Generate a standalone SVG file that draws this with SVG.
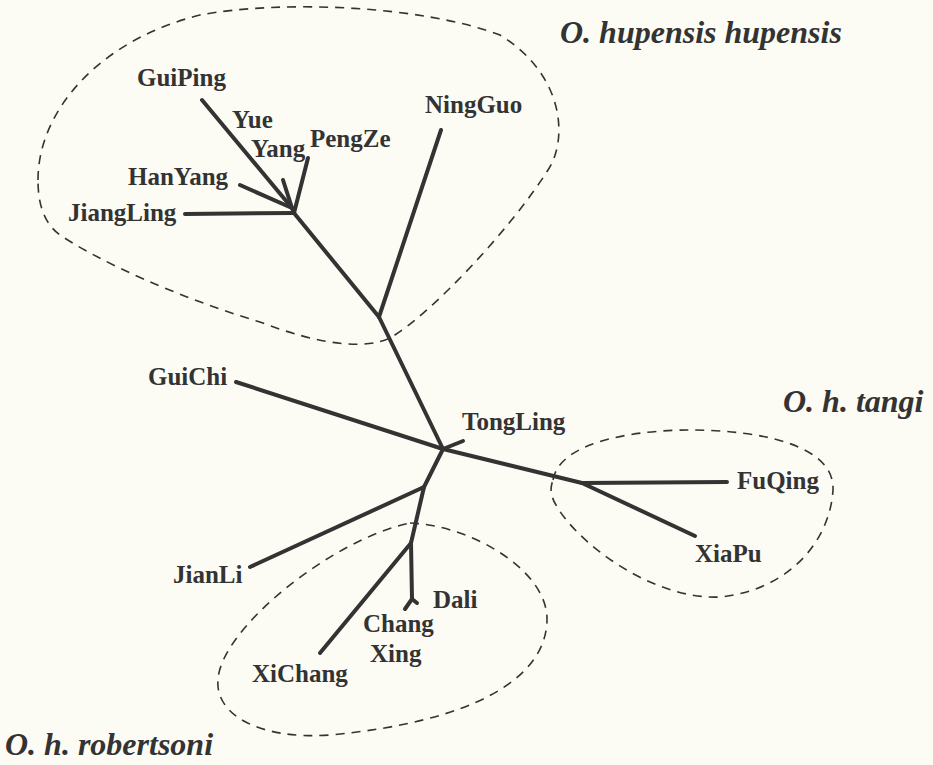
<svg xmlns="http://www.w3.org/2000/svg" width="933" height="765" viewBox="0 0 933 765">
<style>
.bg{fill:#fcfcf4}
.br{stroke:#333;stroke-width:4;stroke-linecap:round;fill:none}
.grp{stroke:#333;stroke-width:1.6;stroke-dasharray:9 7;fill:none}
.lb{font-family:"Liberation Serif","Times New Roman",serif;font-weight:bold;font-size:25px;fill:#333}
.tt{font-family:"Liberation Serif","Times New Roman",serif;font-weight:bold;font-style:italic;font-size:32px;fill:#333}
</style>
<rect class="bg" x="0" y="0" width="933" height="765"/>
<g id="groups">
<path id="grp-hupensis" class="grp" d="M 38,180 C 38,110 100,40 200,15 C 280,0 420,5 500,35 C 565,75 568,140 548,170 C 510,230 430,315 390,338 C 365,350 320,345 260,322 C 180,298 100,262 60,235 C 42,222 38,200 38,180 Z"/>
<path id="grp-tangi" class="grp" d="M 553,480 C 560,440 640,430 690,430 C 760,430 835,445 833,490 C 830,540 790,590 720,597 C 650,600 575,540 556,505 C 550,495 550,488 553,480 Z"/>
<path id="grp-robertsoni" class="grp" d="M 410,523 C 470,525 548,570 547,620 C 546,680 470,722 330,735 C 260,740 215,715 218,680 C 220,630 330,540 410,523 Z"/>
</g>
<g id="connectors">
<line class="br" x1="294" y1="213" x2="292" y2="208"/>
<line class="br" x1="292" y1="208" x2="202" y2="100"/>
<line class="br" x1="292" y1="208" x2="283" y2="180"/>
<line class="br" x1="292" y1="208" x2="240" y2="185"/>
<line class="br" x1="294" y1="213" x2="308" y2="158"/>
<line class="br" x1="294" y1="213" x2="185" y2="214"/>
<line class="br" x1="294" y1="213" x2="379" y2="317"/>
<line class="br" x1="379" y1="317" x2="441" y2="130"/>
<line class="br" x1="379" y1="317" x2="443" y2="449"/>
<line class="br" x1="443" y1="449" x2="236" y2="382"/>
<line class="br" x1="443" y1="449" x2="463" y2="441"/>
<line class="br" x1="443" y1="449" x2="582" y2="483"/>
<line class="br" x1="582" y1="483" x2="727" y2="482"/>
<line class="br" x1="582" y1="483" x2="695" y2="536"/>
<line class="br" x1="443" y1="449" x2="424" y2="487"/>
<line class="br" x1="424" y1="487" x2="250" y2="567"/>
<line class="br" x1="424" y1="487" x2="411" y2="543"/>
<line class="br" x1="411" y1="543" x2="320" y2="653"/>
<line class="br" x1="411" y1="543" x2="412" y2="599"/>
<line class="br" x1="412" y1="599" x2="405" y2="609"/>
<line class="br" x1="412" y1="599" x2="417" y2="603"/>
</g>
<g id="GuiPing"><text class="lb" x="137" y="86">GuiPing</text></g>
<g id="YueYang"><text class="lb" x="232" y="128">Yue</text><text class="lb" x="251" y="157">Yang</text></g>
<g id="PengZe"><text class="lb" x="310" y="147">PengZe</text></g>
<g id="HanYang"><text class="lb" x="128" y="185">HanYang</text></g>
<g id="JiangLing"><text class="lb" x="68" y="221">JiangLing</text></g>
<g id="NingGuo"><text class="lb" x="425" y="113">NingGuo</text></g>
<g id="GuiChi"><text class="lb" x="148" y="385">GuiChi</text></g>
<g id="TongLing"><text class="lb" x="462" y="430">TongLing</text></g>
<g id="FuQing"><text class="lb" x="737" y="489">FuQing</text></g>
<g id="XiaPu"><text class="lb" x="695" y="562">XiaPu</text></g>
<g id="JianLi"><text class="lb" x="173" y="583">JianLi</text></g>
<g id="Dali"><text class="lb" x="433" y="608">Dali</text></g>
<g id="ChangXing"><text class="lb" x="363" y="632">Chang</text><text class="lb" x="370" y="662">Xing</text></g>
<g id="XiChang"><text class="lb" x="252" y="682">XiChang</text></g>
<g id="label-hupensis"><text class="tt" x="560" y="43">O. hupensis hupensis</text></g>
<g id="label-tangi"><text class="tt" x="783" y="412">O. h. tangi</text></g>
<g id="label-robertsoni"><text class="tt" x="5" y="755">O. h. robertsoni</text></g>
</svg>
